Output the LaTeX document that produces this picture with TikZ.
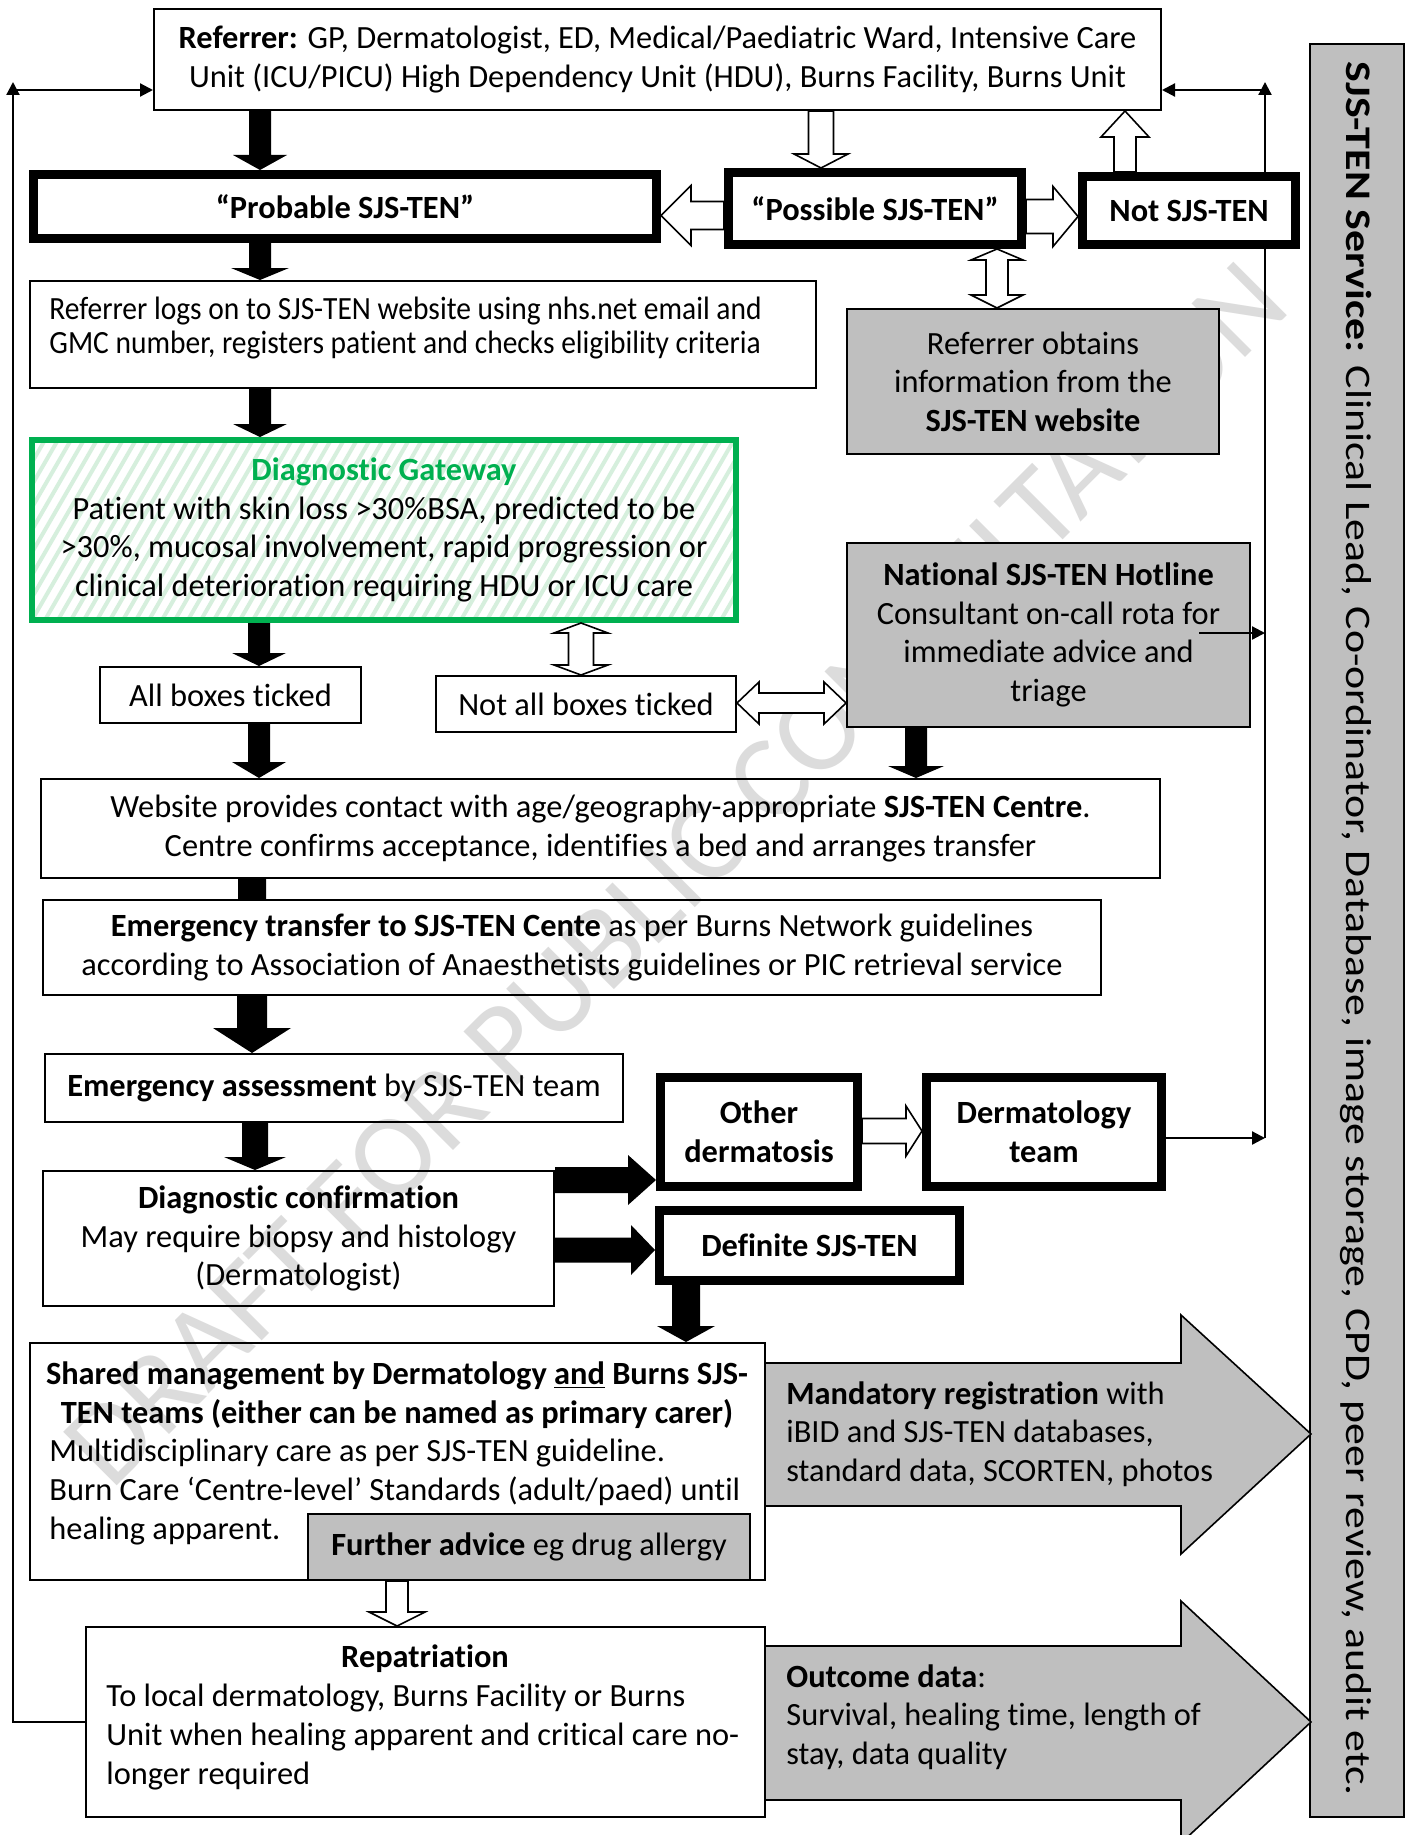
\documentclass[tikz,border=0pt]{standalone}
\usepackage{fontspec}
\setmainfont{Carlito}[Ligatures={TeX,NoCommon}]
\usepackage{graphicx}
\usetikzlibrary{calc,arrows.meta}
\definecolor{boxgray}{HTML}{BFBFBF}
\definecolor{gwgreen}{HTML}{00B050}
\definecolor{stripegreen}{HTML}{D6EFDD}
\definecolor{wmark}{HTML}{DCDCDC}
\newcommand\fsz{\fontsize{16.2}{19.3}\selectfont}
% box: [style]{name}{x1}{y1}{x2}{y2}{line width px}{text}
\newcommand\bx[8][]{\node[box,line width={#7*0.5pt},minimum width={(#5-#3-#7)*0.5pt},minimum height={(#6-#4-#7)*0.5pt},#1] (#2) at ({(#3+#5)/2},{(#4+#6)/2}) {#8};}
% vertical block arrow: [style]{start}{end}{half shaft}{end half head}{end head len}{start half head}{start head len}
\newcommand\vblk[8][]{\path[#1] let \p1=#2, \p2=#3, \n1={(\y2-\y1)/abs(\y2-\y1)} in
 (\x1,\y1) -- ({\x1-#7*0.5pt},{\y1+\n1*#8*0.5pt}) -- ({\x1-#4*0.5pt},{\y1+\n1*#8*0.5pt})
 -- ({\x1-#4*0.5pt},{\y2-\n1*#6*0.5pt}) -- ({\x1-#5*0.5pt},{\y2-\n1*#6*0.5pt}) -- (\x1,\y2)
 -- ({\x1+#5*0.5pt},{\y2-\n1*#6*0.5pt}) -- ({\x1+#4*0.5pt},{\y2-\n1*#6*0.5pt})
 -- ({\x1+#4*0.5pt},{\y1+\n1*#8*0.5pt}) -- ({\x1+#7*0.5pt},{\y1+\n1*#8*0.5pt}) -- cycle;}
\newcommand\hblk[8][]{\path[#1] let \p1=#2, \p2=#3, \n1={(\x2-\x1)/abs(\x2-\x1)} in
 (\x1,\y1) -- ({\x1+\n1*#8*0.5pt},{\y1-#7*0.5pt}) -- ({\x1+\n1*#8*0.5pt},{\y1-#4*0.5pt})
 -- ({\x2-\n1*#6*0.5pt},{\y1-#4*0.5pt}) -- ({\x2-\n1*#6*0.5pt},{\y1-#5*0.5pt}) -- (\x2,\y1)
 -- ({\x2-\n1*#6*0.5pt},{\y1+#5*0.5pt}) -- ({\x2-\n1*#6*0.5pt},{\y1+#4*0.5pt})
 -- ({\x1+\n1*#8*0.5pt},{\y1+#4*0.5pt}) -- ({\x1+\n1*#8*0.5pt},{\y1+#7*0.5pt}) -- cycle;}
\begin{document}
\begin{tikzpicture}[x=0.5pt,y=-0.5pt,
 box/.style={draw=black,inner sep=0pt,align=center,font=\fsz},
 graybox/.style={fill=boxgray},
 boldbox/.style={font=\fsz\bfseries},
 blk/.style={fill=black},
 hol/.style={fill=white,draw=black,line width=0.8pt,line join=miter},
 thinarr/.style={draw=black,line width=1.1pt,-{Triangle[width=6.5pt,length=6.5pt]}},
 txt/.style={inner sep=0pt,font=\fsz,align=left},
 bigarrow/.style={fill=boxgray,draw=black,line width=0.8pt,line join=miter}]
\useasboundingbox (0,0) rectangle (1411,1835);
\clip (0,0) rectangle (1411,1835);
\fill[white] (0,0) rectangle (1411,1835);
% watermark
\node[rotate=45,text=wmark,font=\fontsize{59}{59}\selectfont,inner sep=0pt] (wm) at (676,874) {DRAFT FOR PUBLIC CONSULTATION};
% right-hand return line (passes behind the "Not SJS-TEN" box)
\coordinate (RB) at (1265,1138);
\coordinate (RT) at (1265,82);
\draw[thinarr] (RB) -- (RT);
% boxes
\bx{ref}{153}{8}{1162}{111}{2}{\textbf{Referrer:} GP, Dermatologist, ED, Medical/Paediatric Ward, Intensive Care\\Unit (ICU/PICU) High Dependency Unit (HDU), Burns Facility, Burns Unit}
\bx[boldbox]{prob}{29}{170}{661}{243}{9}{“Probable SJS-TEN”}
\bx[boldbox]{poss}{724}{168}{1026}{249}{9}{“Possible SJS-TEN”}
\bx[boldbox,fill=white]{nots}{1078}{172}{1300}{249}{9}{Not SJS-TEN}
\bx{logs}{29}{280}{817}{389}{2}{}
\node[inner sep=0pt,anchor=west] (logst) at (49,330) {\scalebox{0.91}[1]{\fontsize{16.2}{17}\selectfont\begin{tabular}{@{}l@{}}Referrer logs on to SJS-TEN website using nhs.net email and\\GMC number, registers patient and checks eligibility criteria\end{tabular}}};
\bx[graybox]{obt}{846}{308}{1220}{455}{2}{Referrer obtains\\information from the\\\textbf{SJS-TEN website}}
\bx[draw=gwgreen,path picture={\foreach \k in {0,...,75}{\draw[stripegreen,line width=2pt] ($(path picture bounding box.south west)+(\k*13-130,0)$) -- ++(60:130pt);}}]{gate}{29}{437}{739}{623}{6}{\textcolor{gwgreen}{\textbf{Diagnostic Gateway}}\\Patient with skin loss >30\%BSA, predicted to be\\>30\%, mucosal involvement, rapid progression or\\clinical deterioration requiring HDU or ICU care}
\bx{all}{99}{666}{362}{724}{2}{All boxes ticked}
\bx{notall}{435}{675}{737}{733}{2}{Not all boxes ticked}
\bx[graybox]{hot}{846}{542}{1251}{728}{2}{\textbf{National SJS-TEN Hotline}\\Consultant on-call rota for\\immediate advice and\\triage}
\bx{web}{40}{778}{1161}{879}{2}{Website provides contact with age/geography-appropriate \textbf{SJS-TEN Centre}.\\Centre confirms acceptance, identifies a bed and arranges transfer}
\bx{trans}{42}{899}{1102}{996}{2}{\textbf{Emergency transfer to SJS-TEN Cente} as per Burns Network guidelines\\according to Association of Anaesthetists guidelines or PIC retrieval service}
\bx{assess}{44}{1053}{624}{1123}{2}{\raisebox{3pt}{\textbf{Emergency assessment} by SJS-TEN team}}
\bx{conf}{42}{1170}{555}{1307}{2}{\textbf{Diagnostic confirmation}\\May require biopsy and histology\\(Dermatologist)}
\bx[boldbox]{other}{656}{1073}{862}{1191}{9}{Other\\dermatosis}
\bx[boldbox]{derm}{922}{1073}{1166}{1191}{9}{Dermatology\\team}
\bx[boldbox]{defn}{655}{1206}{964}{1285}{9}{Definite SJS-TEN}
\bx{shared}{29}{1342}{766}{1581}{2}{}
\node[txt,align=center,font=\fsz\bfseries] (sht) at (397,1395) {Shared management by Dermatology \underline{and} Burns SJS-\\TEN teams (either can be named as primary carer)};
\node[txt,anchor=west] (shb) at (49,1492) {Multidisciplinary care as per SJS-TEN guideline.\\Burn Care ‘Centre-level’ Standards (adult/paed) until\\healing apparent.};
\bx[graybox]{adv}{307}{1513}{751}{1581}{2}{\textbf{Further advice} eg drug allergy}
\bx{rep}{85}{1626}{766}{1818}{2}{}
\node[font=\fsz\bfseries,inner sep=0pt] (rept) at (425,1659) {Repatriation};
\node[txt,anchor=west] (repb) at (106,1737) {To local dermatology, Burns Facility or Burns\\Unit when healing apparent and critical care no-\\longer required};
\bx[graybox]{svc}{1309}{43}{1405}{1818}{2}{}
\node[rotate=-90,inner sep=0pt,font=\fontsize{18}{20}\selectfont] (svct) at (1356,929) {\resizebox{867pt}{\height}{\textbf{SJS-TEN Service:} Clinical Lead, Co-ordinator, Database, image storage, CPD, peer review, audit etc.}};
% big grey arrows
\draw[bigarrow] (766,1363) -- (1181,1363) -- (1181,1315) -- (1311,1434) -- (1181,1554) -- (1181,1506) -- (766,1506);
\node[txt,anchor=west] (mand) at (786,1434) {\textbf{Mandatory registration} with\\iBID and SJS-TEN databases,\\standard data, SCORTEN, photos};
\draw[bigarrow] (766,1646) -- (1181,1646) -- (1181,1601) -- (1311,1722) -- (1181,1843) -- (1181,1800) -- (766,1800);
\node[txt,anchor=west] (outc) at (786,1717) {\textbf{Outcome data}:\\Survival, healing time, length of\\stay, data quality};
% black block arrows
\vblk[blk]{($(ref.south west)+(107,0)$)}{(prob.north)}{11}{27}{15}{11}{0}
\vblk[blk]{($(prob.south west)+(231,0)$)}{(logs.north)}{11}{29}{12}{11}{0}
\vblk[blk]{($(logs.south west)+(231,0)$)}{(gate.north)}{11}{27}{13}{11}{0}
\vblk[blk]{($(gate.south west)+(230,0)$)}{(all.north)}{11}{27}{13}{11}{0}
\vblk[blk]{($(all.south west)+(160,0)$)}{(web.north)}{11}{27}{16}{11}{0}
\vblk[blk]{($(hot.south west)+(70,0)$)}{(web.north)}{11}{28}{12}{11}{0}
\vblk[blk]{($(web.south west)+(212,0)$)}{(trans.north)}{14}{14}{0}{14}{0}
\vblk[blk]{($(trans.south west)+(210,0)$)}{(assess.north)}{15}{39}{25}{15}{0}
\vblk[blk]{($(assess.south west)+(211,0)$)}{(conf.north)}{13}{31}{13}{13}{0}
\hblk[blk]{($(conf.north east)+(0,10)$)}{(other.west)}{13}{25}{28}{13}{0}
\hblk[blk]{($(conf.north east)+(0,80)$)}{(defn.west)}{12.5}{25}{24}{12.5}{0}
\vblk[blk]{($(defn.south west)+(31,0)$)}{(shared.north)}{14}{29}{16}{14}{0}
% hollow block arrows
\vblk[hol]{($(ref.south west)+(668,0)$)}{(poss.north)}{12.5}{27}{14}{12.5}{0}
\vblk[hol]{($(nots.north west)+(47,0)$)}{(ref.south)}{11}{24}{26}{11}{0}
\hblk[hol]{($(poss.west)+(0,7)$)}{(prob.east)}{14}{30}{30}{14}{0}
\hblk[hol]{($(poss.east)+(0,8)$)}{(nots.west)}{17}{30}{25}{17}{0}
\vblk[hol]{($(poss.south west)+(273,0)$)}{(obt.north)}{11}{26}{13}{26}{11}
\vblk[hol]{($(gate.south west)+(552,0)$)}{(notall.north)}{12.5}{27}{10}{27}{10}
\hblk[hol]{($(notall.east)+(0,-1)$)}{(hot.west)}{10}{21}{22}{21}{22}
\hblk[hol]{($(other.east)+(0,-1)$)}{(derm.west)}{12.5}{25}{16}{12.5}{0}
\vblk[hol]{($(shared.south west)+(368,0)$)}{(rep.north)}{11}{28}{14}{11}{0}
% thin feedback lines
\coordinate (LT) at (13,82);
\coordinate (LH) at (13,90);
\coordinate (RH) at (1265,90);
\coordinate (HS) at (1199,633);
\draw[thinarr] (rep.west) -| (LT);
\draw[thinarr] (LH) -- (LH -| ref.west);
\draw[thinarr] (derm.east |- RB) -- (RB);
\draw[thinarr] (RH) -- (RH -| ref.east);
\draw[thinarr] (HS) -- (HS -| RB);
\end{tikzpicture}
\end{document}
